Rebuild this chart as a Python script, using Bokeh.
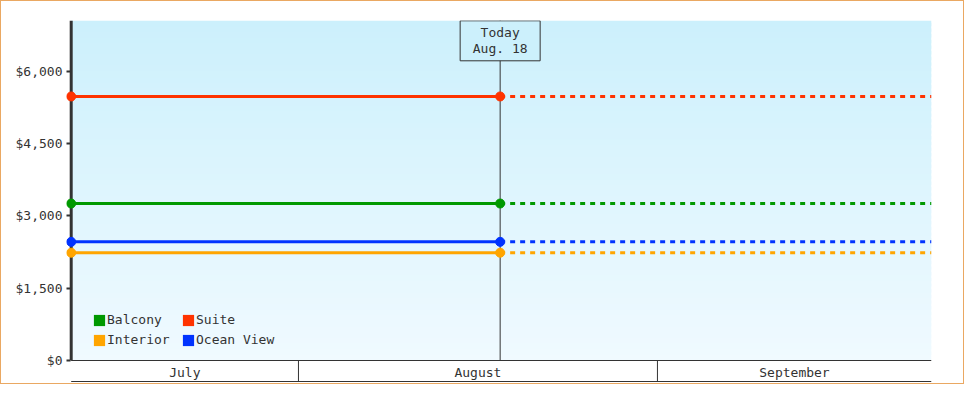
import pandas as pd
from bokeh.plotting import figure
from bokeh.models import Range1d, FixedTicker, NumeralTickFormatter, Legend, LegendItem
from bokeh.core.properties import value
from bokeh.embed import file_html
from bokeh.resources import INLINE

# ---------------- data ----------------
series = ["Balcony", "Suite", "Interior", "Ocean View"]
prices = [3255, 5475, 2235, 2460]
colors = ["#009900", "#ff3300", "#ffa500", "#0033ff"]
start = pd.Timestamp("2024-07-12 09:00")
today = pd.Timestamp("2024-08-18 10:00")
end = pd.Timestamp("2024-09-24 16:00")
months = ["July", "August", "September"]
month_starts = ["2024-07-01", "2024-08-01", "2024-09-01", "2024-10-01"]
y_ticks = [0, 1500, 3000, 4500, 6000]
y_max = 7050
today_lines = ["Today", "Aug. 18"]

# ---------------- layout ----------------
FONT = "DejaVu Sans Mono"
INK = "#333333"
W, H = 964, 384
F_LEFT, F_RIGHT, F_TOP, F_BOT = 65, 930, 19, 382
ZERO_PX = 359          # pixel row of y = 0
ROW_BOTTOM_PX = 380    # bottom rule of the month row
ROW_TEXT_PX = 371      # centre of the month labels
DATA_LEFT_PX = 69.7    # pixel column of the first date


def ms(t):
    return (pd.Timestamp(t) - pd.Timestamp("1970-01-01")).total_seconds() * 1000.0


x0, x1, xt = ms(start), ms(end), ms(today)
per_px_x = (x1 - x0) / (F_RIGHT - DATA_LEFT_PX)
x_lo = x0 - (DATA_LEFT_PX - F_LEFT) * per_px_x
per_px_y = y_max / (ZERO_PX - F_TOP)
y_lo = -(F_BOT - ZERO_PX) * per_px_y


def y_at(px):
    return (ZERO_PX - px) * per_px_y


y_row_bottom = y_at(ROW_BOTTOM_PX)
y_row_text = y_at(ROW_TEXT_PX)

p = figure(width=W, height=H, output_backend="svg", toolbar_location=None,
           x_range=Range1d(x_lo, x1), y_range=Range1d(y_lo, y_max),
           x_axis_location=None, y_axis_location="left",
           min_border_left=F_LEFT, min_border_right=W - F_RIGHT,
           min_border_top=F_TOP, min_border_bottom=H - F_BOT)
p.outline_line_color = None
p.background_fill_color = "white"
p.border_fill_color = "white"
p.grid.visible = False
p.styles = {"border": "1px solid #eaa862"}

# gradient background
top_c = (204, 240, 252)
bot_c = (240, 250, 255)
n = 60
bl, bt, bc = [], [], []
for i in range(n):
    f = (i + 0.5) / n
    c = tuple(int(round(bot_c[k] + (top_c[k] - bot_c[k]) * f)) for k in range(3))
    bl.append(y_max * i / n)
    bt.append(min(y_max, y_max * (i + 1.6) / n))
    bc.append("#%02x%02x%02x" % c)
p.quad(left=x0, right=x1, bottom=bl, top=bt, fill_color=bc, line_color=None)

# today line + box
p.segment(x0=[xt], y0=[0], x1=[xt], y1=[y_max], line_color=INK, line_width=1)
p.rect(x=[xt], y=[y_at(39.3)], width=80, height=40, width_units="screen",
       height_units="screen", fill_color="#ccf0fc", line_color=INK, line_width=1)
p.text(x=[xt, xt], y=[y_at(31), y_at(47)], text=today_lines,
       text_font=value(FONT), text_font_size="13px", text_color=INK,
       text_align="center", text_baseline="middle")

# month row
ms_list = [ms(m) for m in month_starts]
p.segment(x0=[x0, x0], y0=[0, y_row_bottom], x1=[x1, x1], y1=[0, y_row_bottom],
          line_color=INK, line_width=1)
inner = [m for m in ms_list if x0 < m < x1]
p.segment(x0=inner, y0=[0] * len(inner), x1=inner, y1=[y_row_bottom] * len(inner),
          line_color=INK, line_width=1)
centers = [(max(ms_list[i], x0) + min(ms_list[i + 1], x1)) / 2 for i in range(len(months))]
p.text(x=centers, y=[y_row_text] * len(months), text=months,
       text_font=value(FONT), text_font_size="13px", text_color=INK,
       text_align="center", text_baseline="middle")

# y axis line
p.segment(x0=[x0], y0=[0], x1=[x0], y1=[y_max], line_color=INK, line_width=3)

# series
for v, c in zip(prices, colors):
    p.line([x0, xt], [v, v], line_color=c, line_width=3)
    p.line([xt, x1], [v, v], line_color=c, line_width=3, line_dash="5 5")
    p.scatter([x0, xt], [v, v], marker="circle", size=9, fill_color=c, line_color=c)

# y axis
ax = p.yaxis[0]
ax.ticker = FixedTicker(ticks=y_ticks)
ax.formatter = NumeralTickFormatter(format="$0,0")
ax.axis_line_color = None
ax.major_tick_line_color = INK
ax.major_tick_line_width = 2
ax.major_tick_out = 0
ax.major_tick_in = 4
ax.minor_tick_line_color = None
ax.major_label_standoff = 4
ax.major_label_text_font = FONT
ax.major_label_text_font_size = "13px"
ax.major_label_text_color = INK

# legend (zero-area swatch renderers)
items = []
for s, c in zip(series, colors):
    r = p.quad(left=[x0], right=[x0], top=[0], bottom=[0], fill_color=c, line_color=None)
    items.append(LegendItem(label=s, renderers=[r]))
legend = Legend(items=items, orientation="horizontal", ncols=2, location=(26, 36),
                glyph_width=14, glyph_height=14, label_standoff=1, spacing=5,
                padding=0, margin=0, border_line_color=None, background_fill_alpha=0,
                label_text_font=FONT, label_text_font_size="13px", label_text_color=INK,
                label_width=69, label_height=14)
p.add_layout(legend)

open("out.html", "w").write(file_html(p, INLINE))
